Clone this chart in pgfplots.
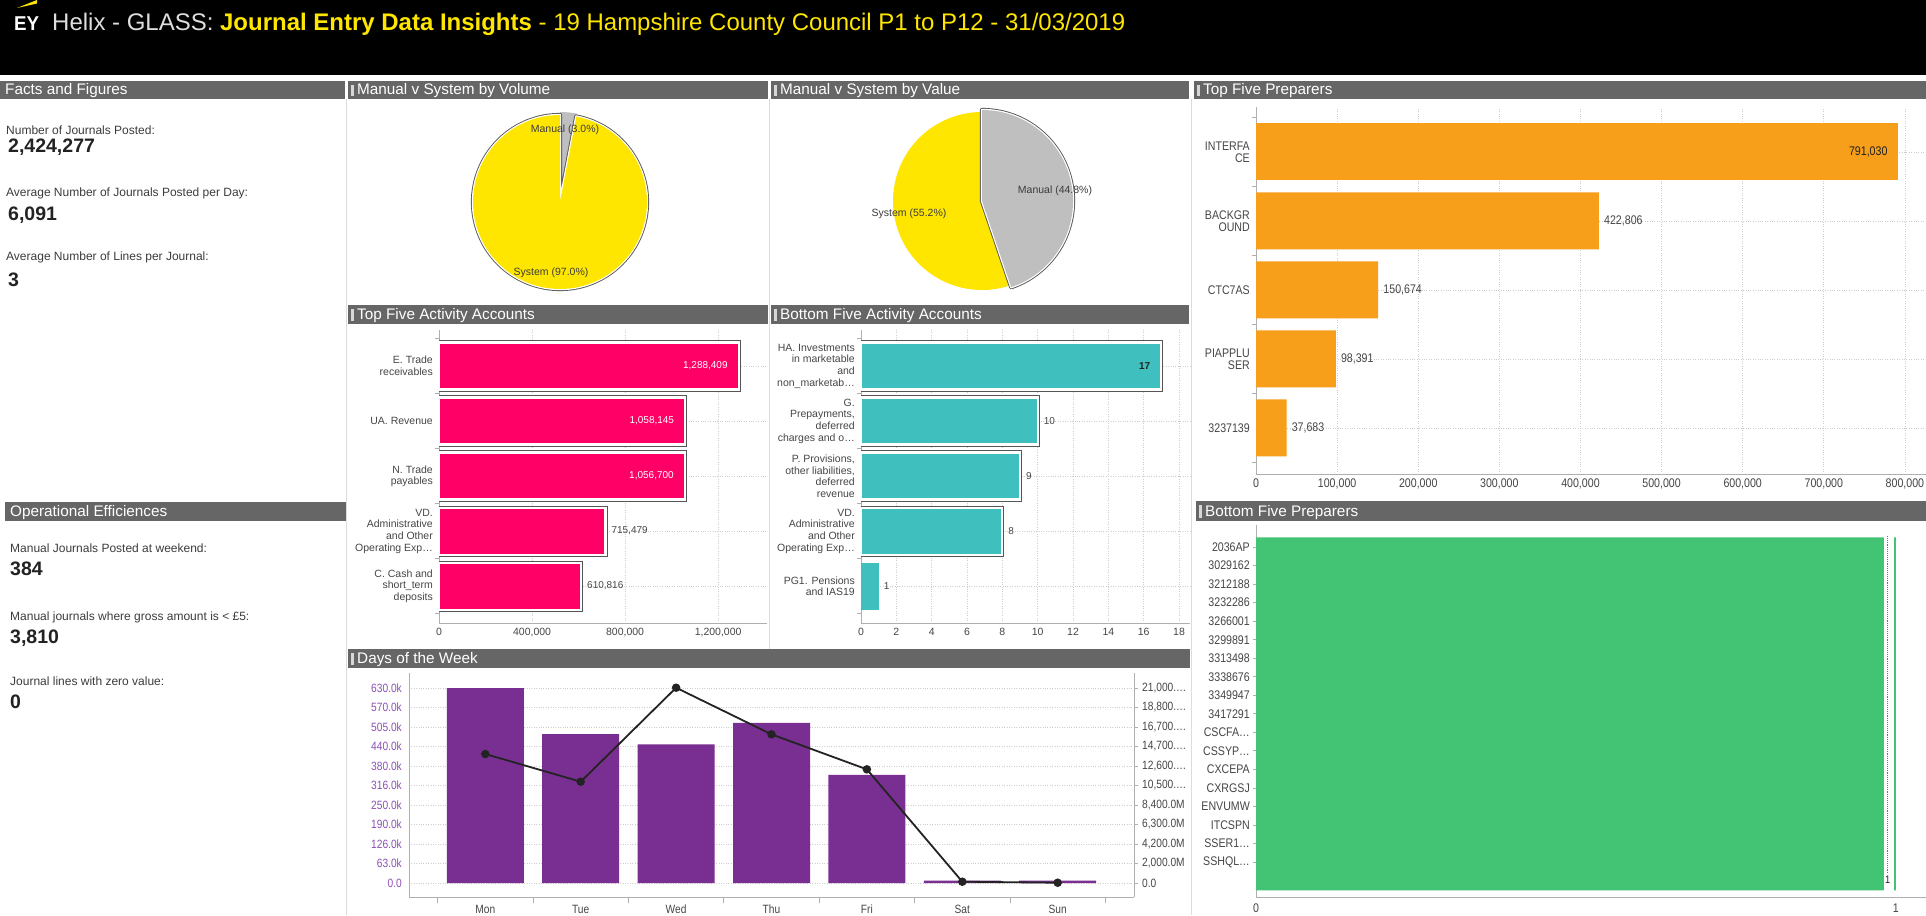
\documentclass[border=0pt]{standalone}
\usepackage{fontspec}
\setmainfont{Liberation Sans}
\newfontfamily\narrowfont{Liberation Sans}[FakeStretch=0.85]
\usepackage{graphicx}
\usepackage{pgfplots}
\pgfplotsset{compat=1.18}
\pgfplotsset{/pgf/number format/assume math mode=true}

\definecolor{eyyellow}{RGB}{255,230,0}
\definecolor{hdrgray}{RGB}{102,102,102}
\definecolor{markgray}{RGB}{215,215,215}
\definecolor{piegray}{RGB}{191,191,191}
\definecolor{pinkbar}{RGB}{255,0,102}
\definecolor{tealbar}{RGB}{64,191,191}
\definecolor{orangebar}{RGB}{247,158,27}
\definecolor{greenbar}{RGB}{67,196,116}
\definecolor{purplebar}{RGB}{121,47,145}
\definecolor{purpletext}{RGB}{140,80,180}
\definecolor{txtgray}{RGB}{70,70,70}
\definecolor{lbl}{RGB}{60,60,60}
\definecolor{valtxt}{RGB}{34,34,34}
\definecolor{gridgray}{RGB}{205,205,205}
\definecolor{axisgray}{RGB}{175,175,175}
\definecolor{sepgray}{RGB}{220,220,220}
\definecolor{outlinegray}{RGB}{85,85,85}
\definecolor{linedark}{RGB}{35,35,35}
\definecolor{titlegray}{RGB}{222,222,222}

\newcommand{\fsz}[2]{\fontsize{#1}{#2}\selectfont}
\newcommand{\panelhdr}[5]{%
  \fill[hdrgray] (#1pt,-#2pt) rectangle (#3pt,-#4pt);
  \fill[markgray] (#1pt+3pt,-#2pt-4pt) rectangle (#1pt+6pt,-#4pt+3pt);
  \node[anchor=base west, inner sep=0pt, text=white, font=\fsz{15.3}{17}] at (#1pt+9pt,-#4pt+4.3pt) {#5};}
\newcommand{\panelhdrplain}[5]{%
  \fill[hdrgray] (#1pt,-#2pt) rectangle (#3pt,-#4pt);
  \node[anchor=base west, inner sep=0pt, text=white, font=\fsz{15.3}{17}] at (#1pt+5pt,-#4pt+4.3pt) {#5};}
\newcommand{\factlabel}[3]{%
  \node[anchor=base west, inner sep=0pt, text=lbl, font=\fsz{12}{14}] at (#1pt,-#2pt-4.3pt) {#3};}
\newcommand{\factvalue}[3]{%
  \node[anchor=base west, inner sep=0pt, text=valtxt, font=\fsz{19.5}{21}\bfseries] at (#1pt,-#2pt-7pt) {#3};}

\pgfplotsset{
  myhbar/.style={
    scale only axis, anchor=south west,
    axis x line*=bottom, axis y line*=left,
    axis line style={axisgray, line width=0.8pt},
    xmajorgrids, ymajorgrids,
    grid style={dotted, gridgray, line width=0.7pt},
    major tick length=0pt, minor tick length=4pt, tick align=outside,
    minor tick style={axisgray, line width=0.8pt},
    scaled x ticks=false, scaled y ticks=false,
    xticklabel style={inner sep=0pt, yshift=-5pt},
    yticklabel style={inner sep=0pt, xshift=-6pt, align=right},
    tick label style={text=txtgray},
  },
  outlined/.style={draw=white, line width=2.2pt, preaction={draw=outlinegray, line width=4.2pt}},
  lblin/.style={nodes near coords, point meta=explicit symbolic,
     nodes near coords style={anchor=east, inner sep=0pt, xshift=-10pt}},
  lblout/.style={nodes near coords, point meta=explicit symbolic,
     nodes near coords style={anchor=west, inner sep=0pt, xshift=5pt, text=txtgray}},
}

% pie data (percent)
\def\volManual{3.0}
\def\valManual{44.8}

\begin{document}
\begin{tikzpicture}
\path[use as bounding box] (0,0) rectangle (1926pt,-915pt);
\fill[white] (0,0) rectangle (1926pt,-915pt);

% ---------- top banner
\fill[black] (0,0) rectangle (1926pt,-75pt);
\fill[eyyellow] (17pt,-8pt) -- (37pt,0pt) -- (37pt,-3.5pt) -- cycle;
\node[anchor=base west, inner sep=0pt, text=white, font=\fsz{20}{21}\bfseries] at (14pt,-31pt) {\resizebox{25pt}{\height}{EY}};
\node[anchor=base west, inner sep=0pt] at (52pt,-31pt) {\resizebox{1073pt}{\height}{\fsz{24}{26}\textcolor{titlegray}{Helix - GLASS:} \textcolor{eyyellow}{\textbf{Journal Entry Data Insights} - 19 Hampshire County Council P1 to P12 - 31/03/2019}}};

% ---------- separators
\draw[sepgray, line width=1pt] (346.5pt,-99pt) -- (346.5pt,-915pt);
\draw[sepgray, line width=1pt] (769.5pt,-99pt) -- (769.5pt,-649pt);
\draw[sepgray, line width=1pt] (1191.5pt,-99pt) -- (1191.5pt,-915pt);

% ---------- panel headers
\panelhdrplain{0}{81}{345}{99}{Facts and Figures}
\panelhdr{348}{81}{768}{99}{Manual v System by Volume}
\panelhdr{771}{81}{1189}{99}{Manual v System by Value}
\panelhdr{1194}{81}{1926}{99}{Top Five Preparers}
\panelhdr{348}{305}{768}{324}{Top Five Activity Accounts}
\panelhdr{771}{305}{1189}{324}{Bottom Five Activity Accounts}
\panelhdrplain{5}{502}{346}{521}{Operational Efficiences}
\panelhdr{1196}{501}{1926}{521}{Bottom Five Preparers}
\panelhdr{348}{649}{1190}{668}{Days of the Week}

% ---------- facts
\factlabel{6}{130}{Number of Journals Posted:}
\factvalue{8}{146}{2,424,277}
\factlabel{6}{192}{Average Number of Journals Posted per Day:}
\factvalue{8}{213}{6,091}
\factlabel{6}{256}{Average Number of Lines per Journal:}
\factvalue{8}{279}{3}
\factlabel{10}{548}{Manual Journals Posted at weekend:}
\factvalue{10}{568}{384}
\factlabel{10}{616}{Manual journals where gross amount is < £5:}
\factvalue{10}{636}{3,810}
\factlabel{10}{681}{Journal lines with zero value:}
\factvalue{10}{701}{0}

% ---------- pie: volume
\pgfmathsetmacro{\vA}{90-\volManual*3.6}
\begin{axis}[at={(560pt,-202pt)}, anchor=center, scale only axis, width=200pt, height=200pt,
  xmin=-1, xmax=1, ymin=-1, ymax=1, hide axis]
  \fill[piegray] (axis cs:0,0) -- ++(90:90pt) arc[start angle=90, end angle=\vA, radius=90pt] -- cycle;
  \draw[outlinegray, line width=4.2pt, line join=round] (axis cs:0,0) -- ++(\vA:87pt) arc[start angle=\vA, end angle=-270, radius=87pt] -- cycle;
  \draw[white, line width=2.4pt, line join=round] (axis cs:0,0) -- ++(\vA:87pt) arc[start angle=\vA, end angle=-270, radius=87pt] -- cycle;
  \fill[eyyellow] (axis cs:0,0) -- ++(\vA:87pt) arc[start angle=\vA, end angle=-270, radius=87pt] -- cycle;
\end{axis}
\node[font=\fsz{10.5}{12}, text=lbl] at (565pt,-130pt) {Manual (3.0\%)};
\node[font=\fsz{10.5}{12}, text=lbl] at (551pt,-273pt) {System (97.0\%)};

% ---------- pie: value
\pgfmathsetmacro{\wA}{90-\valManual*3.6}
\begin{axis}[at={(982pt,-201pt)}, anchor=center, scale only axis, width=200pt, height=200pt,
  xmin=-1, xmax=1, ymin=-1, ymax=1, hide axis]
  \fill[eyyellow] (axis cs:0,0) -- ++(\wA:89pt) arc[start angle=\wA, end angle=-270, radius=89pt] -- cycle;
  \draw[outlinegray, line width=4.2pt, line join=round] (axis cs:0,0) -- ++(90:91pt) arc[start angle=90, end angle=\wA, radius=91pt] -- cycle;
  \draw[white, line width=2.4pt, line join=round] (axis cs:0,0) -- ++(90:91pt) arc[start angle=90, end angle=\wA, radius=91pt] -- cycle;
  \fill[piegray] (axis cs:0,0) -- ++(90:91pt) arc[start angle=90, end angle=\wA, radius=91pt] -- cycle;
\end{axis}
\node[font=\fsz{10.5}{12}, text=lbl] at (1055pt,-191pt) {Manual (44.8\%)};
\node[font=\fsz{10.5}{12}, text=lbl] at (909pt,-214pt) {System (55.2\%)};

% ---------- top five activity accounts
\begin{axis}[myhbar, at={(439pt,-623pt)}, width=328pt, height=293pt,
  xmin=0, xmax=1410000, ymin=-0.67, ymax=4.655,
  xtick={0,400000,800000,1200000}, xticklabels={0,{400,000},{800,000},{1,200,000}},
  ytick={0,1,2,3,4},
  yticklabels={{C. Cash and\\short\_term\\deposits},{VD.\\Administrative\\and Other\\Operating Exp…},{N. Trade\\payables},{UA. Revenue},{E. Trade\\receivables}},
  minor ytick={-0.5,0.5,1.5,2.5,3.5,4.5},
  tick label style={font=\fsz{10.5}{11.6}},
]
\addplot[xbar, bar width=47pt, bar shift=0pt, fill=pinkbar, outlined, lblin,
  nodes near coords style={text=white, font=\fsz{10}{12}}]
  coordinates {(1288409,4) [{1,288,409}] (1058145,3) [{1,058,145}] (1056700,2) [{1,056,700}]};
\addplot[xbar, bar width=47pt, bar shift=0pt, fill=pinkbar, outlined, lblout,
  nodes near coords style={font=\fsz{10}{12}}]
  coordinates {(715479,1) [{715,479}] (610816,0) [{610,816}]};
\end{axis}

% ---------- bottom five activity accounts
\begin{axis}[myhbar, at={(861pt,-623pt)}, width=329pt, height=293pt,
  xmin=0, xmax=18.62, ymin=-0.67, ymax=4.655,
  xtick={0,2,4,6,8,10,12,14,16,18},
  ytick={0,1,2,3,4},
  yticklabels={{PG1. Pensions\\and IAS19},{VD.\\Administrative\\and Other\\Operating Exp…},{P. Provisions,\\other liabilities,\\deferred\\revenue},{G.\\Prepayments,\\deferred\\charges and o…},{HA. Investments\\in marketable\\and\\non\_marketab…}},
  minor ytick={-0.5,0.5,1.5,2.5,3.5,4.5},
  tick label style={font=\fsz{10.5}{11.6}},
]
\addplot[xbar, bar width=47pt, bar shift=0pt, fill=tealbar, outlined, lblin,
  nodes near coords style={text=valtxt, font=\fsz{10}{12}\bfseries}]
  coordinates {(17,4) [17]};
\addplot[xbar, bar width=47pt, bar shift=0pt, fill=tealbar, outlined, lblout,
  nodes near coords style={font=\fsz{10}{12}}]
  coordinates {(10,3) [10] (9,2) [9] (8,1) [8]};
\addplot[xbar, bar width=47pt, bar shift=0pt, fill=tealbar, draw=none, lblout,
  nodes near coords style={font=\fsz{10}{12}}]
  coordinates {(1,0) [1]};
\end{axis}

% ---------- top five preparers
\begin{axis}[myhbar, at={(1256pt,-474pt)}, width=670pt, height=367pt,
  xmin=0, xmax=826000, ymin=-0.667, ymax=4.652,
  xtick={0,100000,200000,300000,400000,500000,600000,700000,800000},
  xticklabels={0,{100,000},{200,000},{300,000},{400,000},{500,000},{600,000},{700,000},{800,000}},
  ytick={0,1,2,3,4},
  yticklabels={3237139,{PIAPPLU\\SER},CTC7AS,{BACKGR\\OUND},{INTERFA\\CE}},
  minor ytick={-0.5,0.5,1.5,2.5,3.5,4.5},
  tick label style={font=\narrowfont\fsz{12.5}{12}},
]
\addplot[xbar, bar width=57pt, bar shift=0pt, fill=orangebar, draw=none, lblin,
  nodes near coords style={text=valtxt, font=\narrowfont\fsz{12.5}{14}}]
  coordinates {(791030,4) [{791,030}]};
\addplot[xbar, bar width=57pt, bar shift=0pt, fill=orangebar, draw=none, lblout,
  nodes near coords style={font=\narrowfont\fsz{12.5}{14}}]
  coordinates {(422806,3) [{422,806}] (150674,2) [{150,674}] (98391,1) [{98,391}] (37683,0) [{37,683}]};
\end{axis}

% ---------- bottom five preparers
\begin{axis}[myhbar, at={(1256pt,-897pt)}, width=670pt, height=372pt,
  xmin=0, xmax=1.047, ymin=-0.885, ymax=19.19,
  xtick={0,1}, ytick={0,1,2,3,4,5,6,7,8,9,10,11,12,13,14,15,16,17,18},
  yticklabels={{},SSHQL…,SSER1…,ITCSPN,ENVUMW,CXRGSJ,CXCEPA,CSSYP…,CSCFA…,3417291,3349947,3338676,3313498,3299891,3266001,3232286,3212188,3029162,2036AP},
  minor ytick={1,2,3,4,5,6,7,8,9,10,11,12,13,14,15,16,17,18}, minor tick length=3pt,
  xmajorgrids=false, ymajorgrids=false,
  tick label style={font=\narrowfont\fsz{12.5}{14}},
  xticklabel style={yshift=-2pt},
]
\addplot[xbar, bar width=19.5pt, bar shift=0pt, fill=greenbar, draw=none]
  coordinates {(1,0) (1,1) (1,2) (1,3) (1,4) (1,5) (1,6) (1,7) (1,8) (1,9) (1,10) (1,11) (1,12) (1,13) (1,14) (1,15) (1,16) (1,17) (1,18)};
\fill[white] (axis cs:0.981,-0.6) rectangle (axis cs:0.997,18.6);
\draw[black!55, densely dotted, line width=0.9pt] (axis cs:0.986,0.4) -- (axis cs:0.986,18.6);
\node[font=\narrowfont\fsz{11}{12}, text=valtxt, inner sep=0pt] at (axis cs:0.987,0.05) {1};
\end{axis}

% ---------- days of the week: bars (left axis)
\begin{axis}[scale only axis, anchor=south west, at={(409pt,-897pt)}, width=725pt, height=224pt,
  xmin=-0.8, xmax=6.8, ymin=-45231, ymax=678462,
  axis x line*=bottom, axis y line*=left,
  axis line style={axisgray, line width=0.8pt},
  xtick={0,1,2,3,4,5,6}, xticklabels={Mon,Tue,Wed,Thu,Fri,Sat,Sun},
  ytick={0,63000,126000,189000,252000,315000,378000,441000,504000,567000,630000},
  yticklabels={0.0,63.0k,126.0k,190.0k,250.0k,316.0k,380.0k,440.0k,505.0k,570.0k,630.0k},
  minor xtick={-0.5,0.5,1.5,2.5,3.5,4.5,5.5,6.5},
  major tick length=0pt, minor tick length=6pt, tick align=outside,
  minor tick style={axisgray, line width=0.8pt},
  ymajorgrids, grid style={dotted, gridgray, line width=0.7pt},
  scaled y ticks=false,
  tick label style={font=\narrowfont\fsz{12}{14}, inner sep=0pt},
  xticklabel style={text=txtgray, yshift=-8pt},
  yticklabel style={text=purpletext, xshift=-7pt},
]
\addplot[ybar, bar width=77pt, bar shift=0pt, fill=purplebar, draw=none]
  coordinates {(0,630000) (1,481000) (2,447600) (3,517600) (4,349000) (5,8000) (6,8000)};
\end{axis}

% ---------- days of the week: line (right axis, millions)
\begin{axis}[scale only axis, anchor=south west, at={(409pt,-897pt)}, width=725pt, height=224pt,
  xmin=-0.8, xmax=6.8, ymin=-1507.7, ymax=22615.4,
  axis x line=none, axis y line*=right,
  axis line style={axisgray, line width=0.8pt},
  ytick={0,2100,4200,6300,8400,10500,12600,14700,16800,18900,21000},
  yticklabels={0.0,{2,000.0M},{4,200.0M},{6,300.0M},{8,400.0M},{10,500.…},{12,600.…},{14,700.…},{16,700.…},{18,800.…},{21,000.…}},
  major tick length=4pt, tick align=outside, major tick style={axisgray, line width=0.8pt},
  tick label style={font=\narrowfont\fsz{12}{14}, inner sep=0pt, text=txtgray},
  yticklabel style={xshift=4pt},
  scaled y ticks=false,
]
\addplot[linedark, line width=1.8pt, mark=*, mark size=3.3pt, mark options={fill=linedark}]
  coordinates {(0,13890) (1,10910) (2,21030) (3,16010) (4,12240) (5,140) (6,30)};
\end{axis}

\end{tikzpicture}
\end{document}
